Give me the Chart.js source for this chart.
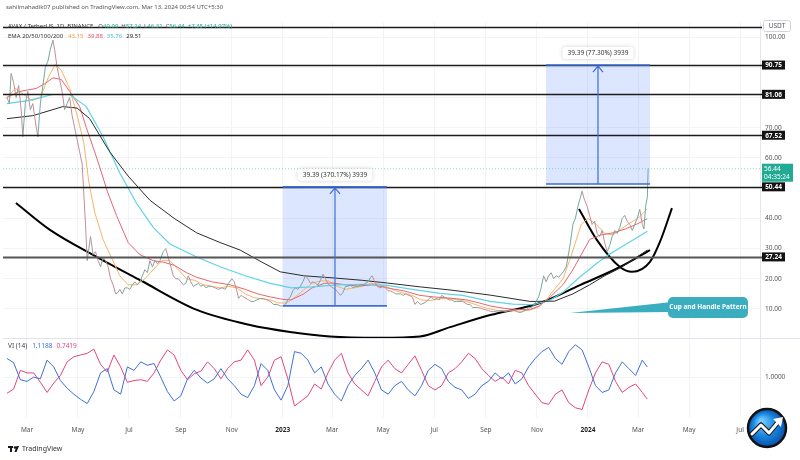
<!DOCTYPE html>
<html>
<head>
<meta charset="utf-8">
<script src="https://cdn.jsdelivr.net/npm/chart.js@4.4.1/dist/chart.umd.min.js"></script>
<style>
  html, body { margin: 0; padding: 0; background: #fff; }
  #wrap { position: relative; width: 800px; height: 460px; }
</style>
</head>
<body>
<div id="wrap"><canvas id="myChart" width="800" height="460"></canvas></div>
<script>
// eixo do tempo: dias desde 2022-01-01
const tickDays = [59, 120, 181, 243, 304, 365, 424, 485, 546, 608, 669, 730, 790, 851, 912];
const tickLabels = ['Mar', 'May', 'Jul', 'Sep', 'Nov', '2023', 'Mar', 'May', 'Jul', 'Sep', 'Nov', '2024', 'Mar', 'May', 'Jul'];
const priceTicks = [10, 20, 30, 40, 50, 60, 70, 80, 90, 100];

// AVAX / USDT fechamentos
const priceDays = [35,38,40,43,46,49,52,54,57,60,63,66,69,72,75,78,81,84,87,90,92,95,98,101,104,107,110,113,116,119,122,125,127,129,131,133,135,138,141,144,147,150,153,156,159,162,165,168,170,173,176,179,182,185,188,191,194,197,200,203,206,209,212,215,218,222,225,228,231,234,237,240,243,246,249,252,255,258,261,264,267,270,273,276,280,284,288,292,296,300,304,307,310,312,315,318,321,324,327,330,334,338,342,346,350,354,358,362,365,368,371,374,377,380,383,386,389,392,395,398,401,404,407,410,413,416,419,422,425,428,431,434,437,440,443,446,449,452,455,458,461,464,467,470,472,475,478,481,485,488,491,494,497,500,503,506,509,512,516,520,523,526,530,534,537,540,543,546,549,552,555,558,561,564,567,570,573,577,580,583,586,589,592,595,598,601,604,608,611,614,617,620,623,626,629,632,635,638,641,644,647,650,653,656,659,662,665,668,671,674,677,680,683,686,689,692,695,698,701,704,706,709,712,715,718,721,723,726,729,732,735,738,741,744,747,750,753,756,759,762,765,768,771,774,777,780,783,786,789,792,795,797,799,801,802];
const priceClose = [80,78,88,85,80,84,76,67,78,82,76,78,72,67,78,84,90,92,96,99,96,90,86,82,76,78,80,74,70,66,62,58,48,38,26,30,34,28,29,26,24,27,26,24,20,18,15,15.5,16.5,15,17,17,16.5,18,19,18,19,21,23,22,26,24,26,25,26,29,30,27,24,21,20,20,19,18,18.5,21,19,17.5,18,18.5,17.5,18,17,17.5,17.5,17,16.5,17,16.5,18.5,20,19,16,13.5,14.5,14,13.5,13,12.5,12.5,13,13.5,13.5,13,12.5,11.5,11.5,11,11,11.5,13,14,16,17,16.5,17.5,19,21,20,18.5,19,18.5,18,19.5,21.5,20,18.5,17.5,17,16.5,15.5,14.5,15.5,17.5,17.5,18,17,17.5,17.5,18,18,18.5,19,20.5,21,19,17.5,17,17.5,17,16,16,15.5,15,15,15,14.5,15,14.5,14,11.5,12.5,11.5,12,12.5,13.5,14,13,13.5,13,14.5,14,13.5,13,13,12.5,12.5,12.5,12.5,12,11.5,11.5,10.5,10.5,10.5,10.3,10,9.7,9.5,9.2,9.1,9.3,9.3,9.4,9.3,9.2,9.5,9.4,9.5,9.3,8.9,8.9,9.3,9.6,10.4,10.5,11,12.5,14,17,21,19,21,22,20,21,20.5,21.5,22.5,24,27,32,38,40,44,47,49,46,44,41,38,39,35,34,36,32,29,31,34,36,35,37,40,41,39,38,36,38,40,43,38,36.5,44,47,56.44];

// EMA 20/50/100/200
const ema20Days = [35,45,55,65,75,85,93,100,110,120,127,133,140,150,160,170,180,190,200,210,220,230,240,250,260,270,280,290,300,310,320,330,340,350,360,370,380,390,400,410,420,430,440,450,460,470,480,490,500,510,520,530,540,550,560,570,580,590,600,610,620,630,640,650,660,670,680,690,700,708,715,722,730,740,750,760,770,780,790,801];
const ema20 = [80,83,81,79,80,87,91,89,83,73,65,52,42,33,27,21,18,18,20,23,26,26,23,20,19.5,18,17.5,17,17.5,17,15,13.8,13.3,13,12,12,14,16.3,18.5,19.3,19.3,17.5,16.5,17,17.5,18.5,18.3,17.3,16,15.2,14.5,13,12.8,13.2,13.6,13.2,12.8,12,11,10.2,9.6,9.4,9.4,9.3,9.6,10.5,13,16.5,20,26,32,38,40,38,35,34.5,36.5,38.5,40,43.15];
const ema50Days = [35,50,60,70,80,90,100,110,122,130,140,146,155,166,180,194,210,222,235,250,262,280,302,320,335,350,365,375,390,400,415,425,440,455,473,493,510,529,545,565,585,600,613,630,645,661,672,685,700,712,722,732,745,760,775,790,801];
const ema50 = [80,82,82.5,83,84.5,86.5,86,82,77,70,62,57,49,41,32,28,26,25.5,24.5,22,20.5,19,18,16.5,15,14,13.2,13,15,17,18.5,18.6,18,17.6,18,16.8,16,14.5,14,13.6,13,12,11,10.2,9.8,9.9,11,14,18,23,28,33,34.5,35.2,36.5,38.3,39.88];
const ema100Days = [35,60,90,110,130,150,170,190,210,230,262,290,320,350,375,400,430,460,490,520,553,580,613,640,665,685,700,720,740,755,770,785,801];
const ema100 = [78,79,81,81,77,67,55,45,37,31.5,27.2,24,21,18.5,17,17.3,18,18.2,17.8,16.5,15.2,14.5,12.5,11.6,11.4,13,15.5,20.5,25,28,30.5,33,35.76];
const ema200Days = [35,66,102,119,134,158,180,206,235,262,290,314,340,362,390,425,460,490,530,565,613,661,690,712,732,750,768,785,801];
const ema200 = [73,74,77,76.5,73,62,54,46,40,35.2,32,29.5,25.5,22.3,21,20.3,19.5,18.6,17.3,16.3,14.6,12.5,12.6,15,18,21,23.5,26.5,29.51];

// desenho: xicara e alca
const cupDays = [45.8,86.5,142.8,194.1,262.3,325.7,373.6,421.4,481.2,529,565,613,672.6,720.5,768.3,804.2];
const cupValues = [45.1,36.2,27.2,19.6,9.7,4.7,2.4,0.9,0.5,0.9,4.0,8.0,12.0,17.9,23.9,29.5];
const handleDays = [719.3,740.8,768.3,782.7,804.2,816.1,830.5];
const handleValues = [43.1,32.8,23.9,22.3,25.6,32.2,43.4];

// linhas horizontais
const levels = [103.4, 90.75, 81.06, 67.52, 50.44, 27.24];
const levelTags = ['', '90.75', '81.06', '67.52', '50.44', '27.24'];

// caixas de medicao
const boxFrom = [365.2, 679.8];
const boxTo = [489.6, 804.2];
const boxLow = [11.05, 51.36];
const boxHigh = [50.44, 90.75];
const boxText = ['39.39 (370.17%) 3939', '39.39 (77.30%) 3939'];

const lastPrice = 56.44;
const lastTimer = '04:35:24';
const calloutTip = [708.5, 8.7];
const calloutBox = [825.7, 921.4, 14.0, 7.0];
const calloutText = 'Cup and Handle Pattern';

// Vortex Indicator (14)
const viDays = [35,43,51,59,67,75,83,91,99,107,115,123,131,139,147,155,163,171,179,187,195,203,211,219,227,235,243,251,259,267,275,283,291,299,307,315,323,331,339,347,355,363,371,379,387,395,403,411,419,427,435,443,451,459,467,475,483,491,499,507,515,523,531,539,547,555,563,571,579,587,595,603,611,619,627,635,643,651,659,667,675,683,691,699,707,715,723,731,739,747,755,763,771,779,787,795,801];
const viPlus = [1.22,1.17,0.97,0.95,1.0,0.98,1.2,1.12,0.96,0.87,0.8,0.74,0.69,0.83,1.05,1.1,0.85,0.8,1.12,1.08,1.18,1.14,1.16,1.0,0.83,0.72,0.78,0.98,1.08,0.99,0.93,0.98,1.1,0.98,0.9,0.8,0.76,0.9,1.16,1.08,0.85,0.73,0.9,1.3,1.28,1.2,1.05,1.12,0.92,0.8,0.72,0.9,1.02,1.1,1.2,1.05,0.85,0.8,0.9,0.95,0.85,0.78,0.9,1.08,1.15,1.1,0.95,0.88,0.85,0.75,0.8,0.9,0.95,1.05,0.98,1.05,0.92,0.98,1.12,1.22,1.3,1.35,1.22,1.15,1.3,1.38,1.32,1.12,0.9,0.82,0.85,1.05,1.18,1.1,1.02,1.2,1.1188];
const viMinus = [0.81,0.86,1.08,1.05,1.05,0.94,0.82,0.93,1.02,1.18,1.24,1.26,1.28,1.33,1.15,1.06,1.26,1.12,0.94,0.96,0.97,0.95,1.05,1.2,1.32,1.26,1.08,0.97,1.04,1.07,1.18,1.1,0.98,1.1,1.18,1.2,1.32,1.2,0.9,1.0,1.2,1.24,0.98,0.66,0.72,0.78,0.92,0.86,1.05,1.2,1.28,1.05,0.92,0.85,0.78,0.95,1.12,1.2,1.1,1.05,1.15,1.25,1.08,0.9,0.85,0.9,1.05,1.1,1.18,1.28,1.22,1.1,1.02,0.95,1.0,0.92,1.08,1.05,0.9,0.8,0.7,0.68,0.8,0.85,0.7,0.64,0.62,0.85,1.05,1.18,1.15,0.95,0.82,0.88,0.92,0.82,0.7419];

const pts = (xs, ys) => xs.map((d, i) => ({ x: d, y: ys[i] }));
const FONT = "'Noto Sans', 'DejaVu Sans', sans-serif";

function lineSet(label, xs, ys, color, width, axis) {
    return {
        label: label,
        data: pts(xs, ys),
        borderColor: color,
        borderWidth: width,
        pointRadius: 0,
        tension: 0,
        fill: false,
        yAxisID: axis
    };
}

function rrect(ctx, x, y, w, h, r) {
    ctx.beginPath();
    ctx.moveTo(x + r, y);
    ctx.lineTo(x + w - r, y);
    ctx.arcTo(x + w, y, x + w, y + r, r);
    ctx.lineTo(x + w, y + h - r);
    ctx.arcTo(x + w, y + h, x + w - r, y + h, r);
    ctx.lineTo(x + r, y + h);
    ctx.arcTo(x, y + h, x, y + h - r, r);
    ctx.lineTo(x, y + r);
    ctx.arcTo(x, y, x + r, y, r);
    ctx.closePath();
}

// escreve pedacos de texto em sequencia
function textRun(ctx, x, y, parts, size) {
    ctx.textBaseline = 'middle';
    ctx.textAlign = 'left';
    parts.forEach(p => {
        ctx.font = (p[2] || '') + ' ' + size + 'px ' + FONT;
        ctx.fillStyle = p[1];
        ctx.fillText(p[0], x, y);
        x += ctx.measureText(p[0]).width + (p[3] === undefined ? 4 : p[3]);
    });
}

const overlay = {
    id: 'overlay',
    beforeDatasetsDraw(chart) {
        const { ctx, scales: { x, y } } = chart;
        ctx.save();
        for (let i = 0; i < boxFrom.length; i++) {
            const l = x.getPixelForValue(boxFrom[i]), r = x.getPixelForValue(boxTo[i]);
            const t = y.getPixelForValue(boxHigh[i]), b = y.getPixelForValue(boxLow[i]);
            ctx.fillStyle = 'rgba(41, 98, 255, 0.16)';
            ctx.fillRect(l, t, r - l, b - t);
        }
        ctx.restore();
    },
    afterDatasetsDraw(chart) {
        const { ctx, chartArea, scales: { x, y } } = chart;
        const right = chartArea.right;
        ctx.save();

        // separador dos paineis
        ctx.strokeStyle = '#e0e3eb';
        ctx.lineWidth = 1;
        ctx.beginPath();
        ctx.moveTo(chartArea.left, y.bottom + 0.5);
        ctx.lineTo(800, y.bottom + 0.5);
        ctx.stroke();

        // linha do preco atual (pontilhada)
        const lp = y.getPixelForValue(lastPrice);
        ctx.strokeStyle = 'rgba(34, 171, 148, 0.45)';
        ctx.setLineDash([1, 2]);
        ctx.beginPath();
        ctx.moveTo(chartArea.left, lp);
        ctx.lineTo(right, lp);
        ctx.stroke();
        ctx.setLineDash([]);

        // niveis horizontais
        levels.forEach((v, i) => {
            const py = Math.round(y.getPixelForValue(v)) + 0.5;
            const last = i === levels.length - 1;
            ctx.strokeStyle = last ? '#555555' : '#1c1c1c';
            ctx.lineWidth = last ? 2 : 1.3;
            ctx.beginPath();
            ctx.moveTo(chartArea.left, py);
            ctx.lineTo(right + 2, py);
            ctx.stroke();
        });

        // caixas de medicao: bordas, seta e rotulo
        for (let i = 0; i < boxFrom.length; i++) {
            const l = x.getPixelForValue(boxFrom[i]), r = x.getPixelForValue(boxTo[i]);
            const t = y.getPixelForValue(boxHigh[i]), b = y.getPixelForValue(boxLow[i]);
            const m = (l + r) / 2;
            ctx.strokeStyle = '#3d6fd6';
            ctx.lineWidth = 1.6;
            ctx.beginPath();
            ctx.moveTo(l, t); ctx.lineTo(r, t);
            ctx.moveTo(l, b); ctx.lineTo(r, b);
            ctx.stroke();
            ctx.lineWidth = 1.2;
            ctx.beginPath();
            ctx.moveTo(m, b); ctx.lineTo(m, t + 1);
            ctx.moveTo(m - 5, t + 7); ctx.lineTo(m, t + 1); ctx.lineTo(m + 5, t + 7);
            ctx.stroke();

            ctx.font = '6.5px ' + FONT;
            const w = ctx.measureText(boxText[i]).width + 10;
            ctx.shadowColor = 'rgba(0,0,0,0.18)';
            ctx.shadowBlur = 4;
            ctx.fillStyle = '#ffffff';
            rrect(ctx, m - w / 2, t - 18, w, 12, 3);
            ctx.fill();
            ctx.shadowBlur = 0;
            ctx.shadowColor = 'transparent';
            ctx.fillStyle = '#333333';
            ctx.textAlign = 'center';
            ctx.textBaseline = 'middle';
            ctx.fillText(boxText[i], m, t - 12);
        }

        // balao "Cup and Handle Pattern"
        const tx = x.getPixelForValue(calloutTip[0]), ty = y.getPixelForValue(calloutTip[1]);
        const bl = x.getPixelForValue(calloutBox[0]), br = x.getPixelForValue(calloutBox[1]);
        const bt = y.getPixelForValue(calloutBox[2]), bb = y.getPixelForValue(calloutBox[3]);
        ctx.fillStyle = '#3aaebf';
        ctx.beginPath();
        ctx.moveTo(tx, ty);
        ctx.lineTo(bl + 4, bt + 5);
        ctx.lineTo(bl + 4, bt + 15);
        ctx.closePath();
        ctx.fill();
        rrect(ctx, bl, bt, br - bl, bb - bt, 5);
        ctx.fill();
        ctx.fillStyle = '#ffffff';
        ctx.font = 'bold 6.5px ' + FONT;
        ctx.textAlign = 'center';
        ctx.textBaseline = 'middle';
        ctx.fillText(calloutText, (bl + br) / 2, (bt + bb) / 2);

        // rotulos no eixo de preco
        ctx.font = 'bold 6.5px ' + FONT;
        levels.forEach((v, i) => {
            if (!levelTags[i]) return;
            const py = y.getPixelForValue(v);
            ctx.fillStyle = '#131313';
            ctx.fillRect(right + 2, py - 4.5, 23, 9);
            ctx.fillStyle = '#ffffff';
            ctx.textAlign = 'center';
            ctx.fillText(levelTags[i], right + 13.5, py + 0.5);
        });
        ctx.fillStyle = '#22ab94';
        ctx.fillRect(right + 2, lp - 5, 31, 18);
        ctx.fillStyle = '#ffffff';
        ctx.font = '6.5px ' + FONT;
        ctx.textAlign = 'left';
        ctx.fillText(lastPrice.toFixed(2), right + 4, lp);
        ctx.fillText(lastTimer, right + 4, lp + 8);

        // caixa USDT
        ctx.fillStyle = '#ffffff';
        ctx.strokeStyle = '#d1d4dc';
        ctx.lineWidth = 1;
        rrect(ctx, right + 3.5, 20.5, 27, 11, 2);
        ctx.fill();
        ctx.stroke();
        ctx.fillStyle = '#555555';
        ctx.textAlign = 'center';
        ctx.fillText('USDT', right + 17, 26.5);

        ctx.restore();
    },
    afterDraw(chart) {
        const { ctx, chartArea, scales: { vi } } = chart;
        ctx.save();
        // cabecalho
        textRun(ctx, 6, 7, [['sahilmahadik07 published on TradingView.com, Mar 13, 2024 00:54 UTC+5:30', '#555555']], 6);
        textRun(ctx, 8, 26, [
            ['AVAX / TetherUS, 1D, BINANCE', '#333333', '', 5],
            ['O', '#555555', '', 0], ['49.09', '#22ab94', '', 3],
            ['H', '#555555', '', 0], ['57.24', '#22ab94', '', 3],
            ['L', '#555555', '', 0], ['46.31', '#22ab94', '', 3],
            ['C', '#555555', '', 0], ['56.44', '#22ab94', '', 3],
            ['+7.35 (+14.97%)', '#22ab94']
        ], 6);
        textRun(ctx, 8, 36, [
            ['EMA 20/50/100/200', '#333333', '', 5],
            ['43.15', '#f0a03a'], ['39.88', '#e4546a'], ['35.76', '#3fc6dd'], ['29.51', '#222222']
        ], 6);
        textRun(ctx, 8, vi.top + 8, [
            ['VI (14)', '#444444', '', 5], ['1.1188', '#3f6fd8'], ['0.7419', '#e5457a']
        ], 6.5);

        // rodape TradingView
        ctx.fillStyle = '#131722';
        ctx.fillRect(8, 446, 5, 2);
        ctx.fillRect(10, 446, 2, 6);
        ctx.beginPath();
        ctx.arc(15, 447.5, 1.3, 0, Math.PI * 2);
        ctx.fill();
        ctx.beginPath();
        ctx.moveTo(16.5, 446); ctx.lineTo(19, 446); ctx.lineTo(16.5, 452); ctx.lineTo(14.5, 452);
        ctx.closePath();
        ctx.fill();
        textRun(ctx, 22, 449, [['TradingView', '#333333']], 7);

        // logo circular
        const cx = 767, cy = 428, rad = 19;
        const g = ctx.createRadialGradient(cx - 6, cy - 7, 2, cx, cy, rad);
        g.addColorStop(0, '#6fc8ff');
        g.addColorStop(0.55, '#1787e0');
        g.addColorStop(1, '#0b4fa8');
        ctx.beginPath();
        ctx.arc(cx, cy, rad, 0, Math.PI * 2);
        ctx.fillStyle = g;
        ctx.fill();
        ctx.lineWidth = 2.5;
        ctx.strokeStyle = '#111111';
        ctx.stroke();
        ctx.strokeStyle = '#111111';
        ctx.lineWidth = 5;
        ctx.lineCap = 'round';
        ctx.lineJoin = 'round';
        ctx.beginPath();
        ctx.moveTo(cx - 15, cy + 6); ctx.lineTo(cx - 6, cy - 3); ctx.lineTo(cx + 2, cy + 5); ctx.lineTo(cx + 12, cy - 7);
        ctx.stroke();
        ctx.strokeStyle = '#ffffff';
        ctx.lineWidth = 3;
        ctx.stroke();
        ctx.fillStyle = '#ffffff';
        ctx.beginPath();
        ctx.moveTo(cx + 16, cy - 11); ctx.lineTo(cx + 6, cy - 9); ctx.lineTo(cx + 14, cy - 1);
        ctx.closePath();
        ctx.fill();
        ctx.restore();
    }
};

const data = {
    datasets: [
        {
            label: 'AVAX',
            data: pts(priceDays, priceClose),
            borderWidth: 1,
            borderColor: '#8aa5a0',
            segment: {
                borderColor: c => c.p1.parsed.y >= c.p0.parsed.y ? '#72a89f' : '#c48d95'
            },
            pointRadius: 0,
            tension: 0,
            yAxisID: 'y'
        },
        lineSet('EMA 200', ema200Days, ema200, '#2b2b2b', 1, 'y'),
        lineSet('EMA 100', ema100Days, ema100, '#5fd3e6', 1.2, 'y'),
        lineSet('EMA 50', ema50Days, ema50, '#e8646f', 1, 'y'),
        lineSet('EMA 20', ema20Days, ema20, '#f7b466', 1, 'y'),
        Object.assign(lineSet('Cup', cupDays, cupValues, '#000000', 2, 'y'), { cubicInterpolationMode: 'monotone' }),
        Object.assign(lineSet('Handle', handleDays, handleValues, '#000000', 2, 'y'), { cubicInterpolationMode: 'monotone' }),
        lineSet('VI+', viDays, viPlus, '#3f6fd8', 1, 'vi'),
        lineSet('VI-', viDays, viMinus, '#e5457a', 1, 'vi')
    ]
};

const config = {
    type: 'line',
    data: data,
    options: {
        responsive: false,
        animation: false,
        layout: { padding: { top: 22, bottom: 18, left: 3, right: 0 } },
        scales: {
            x: {
                type: 'linear',
                min: 30.3,
                max: 935.8,
                afterBuildTicks: s => { s.ticks = tickDays.map(v => ({ value: v })); },
                afterFit: s => { s.height = 24; },
                ticks: {
                    padding: 8,
                    color: c => /^\d{4}$/.test(tickLabels[c.index]) ? '#222222' : '#555555',
                    font: c => ({ size: 6.5, weight: /^\d{4}$/.test(tickLabels[c.index]) ? 'bold' : 'normal' }),
                    callback: (v, i) => tickLabels[i]
                },
                grid: { color: '#f1f3f7', drawTicks: false },
                border: { display: false }
            },
            y: {
                type: 'linear',
                position: 'right',
                stack: 'panes',
                stackWeight: 316,
                min: 0.4,
                max: 105,
                afterBuildTicks: s => { s.ticks = priceTicks.map(v => ({ value: v })); },
                afterFit: s => { s.width = 40; },
                ticks: {
                    padding: 5,
                    color: '#555555',
                    font: { size: 6.5 },
                    callback: v => v.toFixed(2)
                },
                grid: { color: '#f3f4f7', drawTicks: false },
                border: { color: '#e4e6eb' }
            },
            vi: {
                type: 'linear',
                position: 'right',
                stack: 'panes',
                stackWeight: 80,
                min: 0.52,
                max: 1.46,
                afterBuildTicks: s => { s.ticks = [{ value: 1 }]; },
                afterFit: s => { s.width = 40; },
                ticks: {
                    padding: 5,
                    color: '#555555',
                    font: { size: 6.5 },
                    callback: v => v.toFixed(4)
                },
                grid: { color: '#f3f4f7', drawTicks: false },
                border: { color: '#e4e6eb' }
            }
        },
        plugins: {
            legend: { display: false },
            tooltip: { enabled: false }
        }
    },
    plugins: [overlay]
};

Chart.defaults.font.family = FONT;

const myChart = new Chart(document.getElementById('myChart'), config);
</script>
</body>
</html>
